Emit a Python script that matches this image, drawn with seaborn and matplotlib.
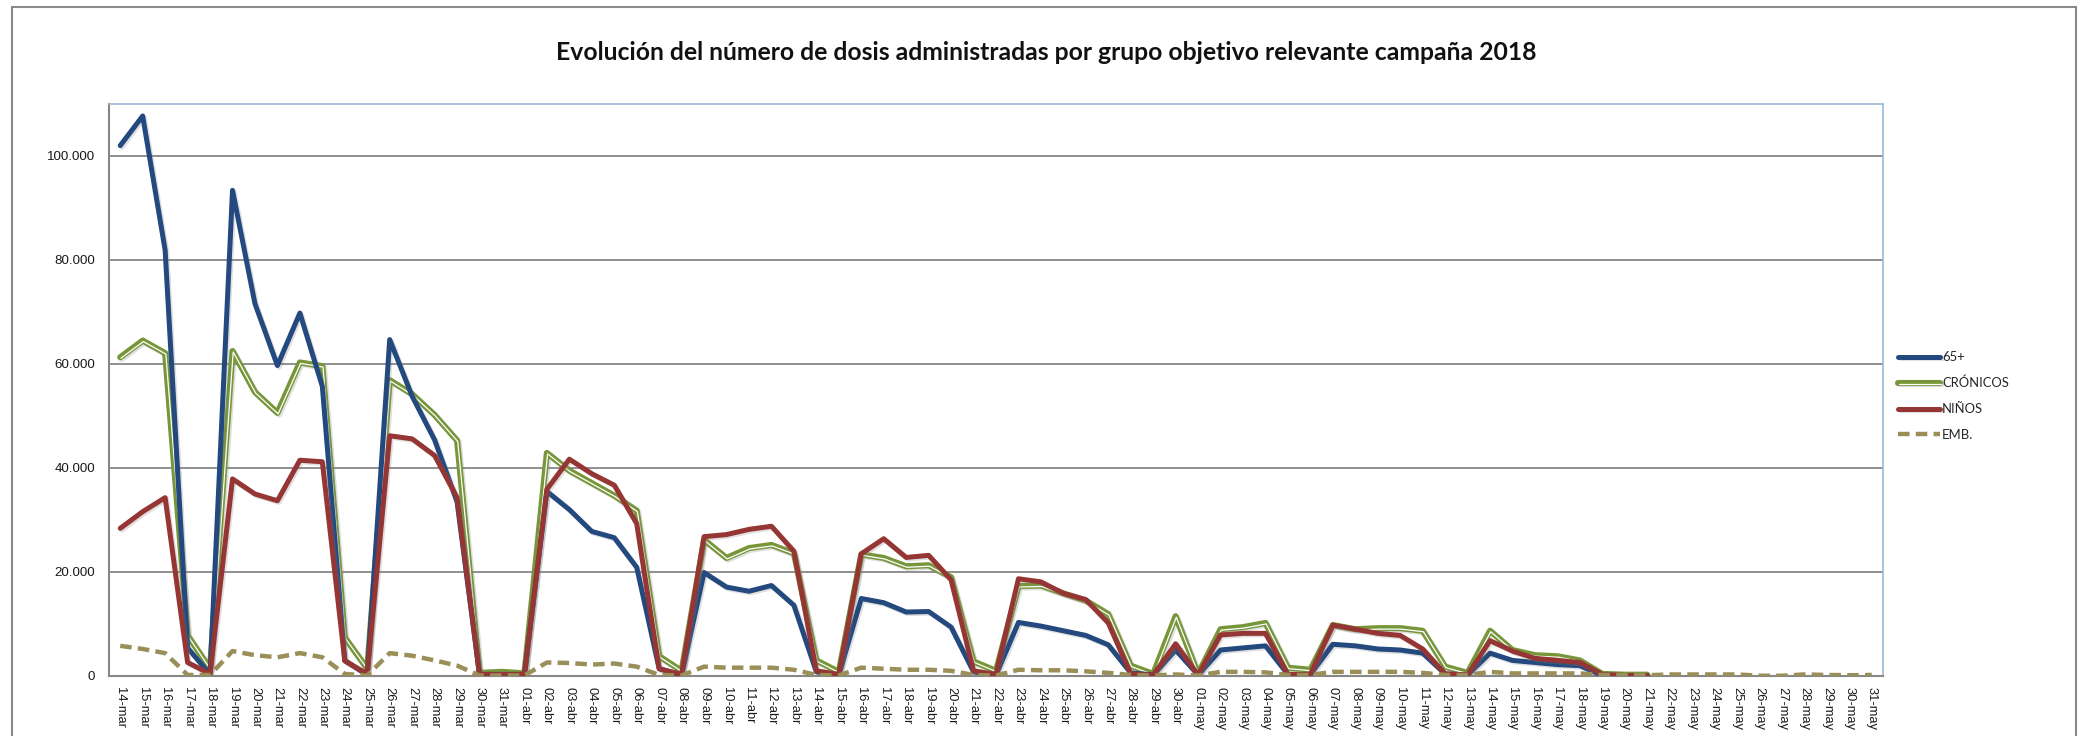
import numpy as np
import pandas as pd
import matplotlib
matplotlib.use("Agg")
import matplotlib.pyplot as plt
import matplotlib.patheffects as pe
from matplotlib.patches import Rectangle
from matplotlib.ticker import FuncFormatter
import seaborn as sns

# -----------------------------
# Data (dosis diarias por grupo)
# -----------------------------
MESES = {3: "mar", 4: "abr", 5: "may"}
fechas = pd.date_range("2018-03-14", "2018-05-31", freq="D")
etiquetas = [f"{d.day:02d}-{MESES[d.month]}" for d in fechas]

mayores_65 = [
    102000, 107700, 81900, 5400, 300, 93400, 71600, 59700, 69800, 55700,
    3000, 200, 64700, 53800, 45400, 33500, 300, 300, 300, 35500,
    32000, 27800, 26600, 20900, 1400, 200, 19900, 17100, 16300, 17400,
    13600, 800, 200, 14900, 14100, 12300, 12400, 9400, 800, 200,
    10300, 9600, 8700, 7800, 6000, 600, 200, 5000, 200, 5000,
    5400, 5800, 300, 300, 6100, 5800, 5200, 5000, 4400, 400,
    200, 4400, 3000, 2600, 2200, 2000, 100, 0, 0,
]
cronicos = [
    61300, 64500, 62100, 7800, 1400, 62500, 54600, 50600, 60300, 59600,
    7400, 1400, 56900, 54200, 50200, 45300, 600, 800, 500, 42900,
    39500, 37100, 34700, 31800, 3800, 1000, 26200, 22700, 24600, 25200,
    23600, 3000, 800, 23400, 22700, 21100, 21300, 19000, 2800, 1000,
    17300, 17400, 15900, 14500, 11900, 2000, 400, 11500, 400, 9000,
    9400, 10200, 1600, 1200, 9800, 9000, 9200, 9200, 8700, 1800,
    600, 8700, 5000, 4000, 3800, 3000, 400, 250, 250,
]
ninos = [
    28400, 31600, 34300, 2600, 400, 37900, 35000, 33700, 41500, 41200,
    2900, 400, 46200, 45600, 42400, 34300, 300, 300, 300, 35900,
    41700, 38900, 36700, 29300, 1400, 300, 26800, 27200, 28200, 28800,
    24000, 1000, 300, 23500, 26400, 22800, 23200, 18500, 1000, 300,
    18700, 18100, 15900, 14700, 10200, 400, 200, 6200, 200, 7900,
    8200, 8200, 300, 300, 9800, 9000, 8200, 7800, 5200, 400,
    200, 6800, 4800, 3400, 3000, 2600, 300, 100, 100,
]
embarazadas = [
    5800, 5200, 4400, 200, 200, 4800, 4000, 3600, 4400, 3600,
    400, 100, 4400, 3900, 3000, 2000, 100, 100, 100, 2600,
    2500, 2200, 2400, 1800, 200, 100, 1800, 1600, 1600, 1600,
    1200, 200, 100, 1600, 1400, 1200, 1200, 1000, 200, 100,
    1200, 1100, 1100, 900, 600, 200, 100, 300, 100, 800,
    800, 700, 200, 200, 800, 800, 800, 800, 600, 200,
    200, 800, 500, 500, 500, 500, 200, 150, 150, 300,
    300, 300, 300, 50, 50, 300, 200, 150, 200,
]

# las tres primeras series terminan el 21-may
def completar(serie):
    return serie + [np.nan] * (len(etiquetas) - len(serie))

df = pd.DataFrame({
    "pos": np.arange(len(etiquetas)),
    "65+": completar(mayores_65),
    "CRÓNICOS": completar(cronicos),
    "NIÑOS": completar(ninos),
    "EMB.": embarazadas,
})

# -----------------------------
# Style
# -----------------------------
sns.set_theme(style="white")
plt.rcParams["font.family"] = ["Liberation Sans", "DejaVu Sans"]

AZUL = "#23497E"
VERDE = "#77963A"
ROJO = "#963634"
OCRE = "#9A8F58"
GRIS = "#878787"

fig = plt.figure(figsize=(20.82, 7.36), dpi=100)
ax = fig.add_axes([109 / 2082, 60 / 736, 1774 / 2082, 572 / 736])

sombra = pe.SimpleLineShadow(offset=(1.2, -1.2), shadow_color="gray", alpha=0.25)

sns.lineplot(data=df, x="pos", y="65+", ax=ax, color=AZUL, lw=3.6,
             label="65+", path_effects=[sombra, pe.Normal()], zorder=4)
sns.lineplot(data=df, x="pos", y="CRÓNICOS", ax=ax, color=VERDE, lw=4.4,
             label="CRÓNICOS", zorder=3,
             path_effects=[sombra, pe.Normal(),
                           pe.Stroke(linewidth=0.9, foreground="white", offset=(0.5, -0.7))])
sns.lineplot(data=df, x="pos", y="NIÑOS", ax=ax, color=ROJO, lw=3.6,
             label="NIÑOS", path_effects=[sombra, pe.Normal()], zorder=5)
sns.lineplot(data=df, x="pos", y="EMB.", ax=ax, color=OCRE, lw=3.2,
             label="EMB.", zorder=6)
ax.lines[-1].set_linestyle((0, (2.6, 1.4)))

# -----------------------------
# Axes
# -----------------------------
ax.set_xlim(-0.5, len(etiquetas) - 0.5)
ax.set_ylim(0, 110000)
ax.set_xticks(df["pos"])
ax.set_xticklabels(etiquetas, rotation=-90, fontsize=9.3, color="#1a1a1a")
ax.set_yticks(range(0, 100001, 20000))
ax.yaxis.set_major_formatter(FuncFormatter(lambda v, p: f"{int(v):,}".replace(",", ".")))
ax.tick_params(axis="y", labelsize=9.6, colors="#1a1a1a", length=0, pad=10)
ax.tick_params(axis="x", length=0, pad=8)
ax.set_xlabel("")
ax.set_ylabel("")
ax.yaxis.grid(True, color=GRIS, lw=1.3)
ax.xaxis.grid(False)
ax.set_axisbelow(True)
for lado in ["left", "bottom"]:
    ax.spines[lado].set_color(GRIS)
    ax.spines[lado].set_linewidth(1.5)
for lado in ["top", "right"]:
    ax.spines[lado].set_color("#9DB9DC")
    ax.spines[lado].set_linewidth(1.2)

ax.legend(loc="center left", bbox_to_anchor=(1893 / 2082, (736 - 396) / 736),
          bbox_transform=fig.transFigure, frameon=False, handlelength=3.2,
          handletextpad=0.15, labelspacing=1.05, borderaxespad=0,
          prop={"family": "Lato", "size": 9.4})

fig.text(1046 / 2082, (736 - 53) / 736,
         "Evolución del número de dosis administradas por grupo objetivo relevante campaña 2018",
         ha="center", va="center", fontsize=17.8, fontweight="bold", family="Lato",
         color="#111111")

# marco exterior del gráfico
fig.patches.append(Rectangle((12 / 2082, -0.02), 2064 / 2082, 1.02 - 7 / 736,
                             transform=fig.transFigure, fill=False,
                             edgecolor="#8a8a8a", lw=1.5))

plt.savefig("out.png", dpi=100)
plt.close()
